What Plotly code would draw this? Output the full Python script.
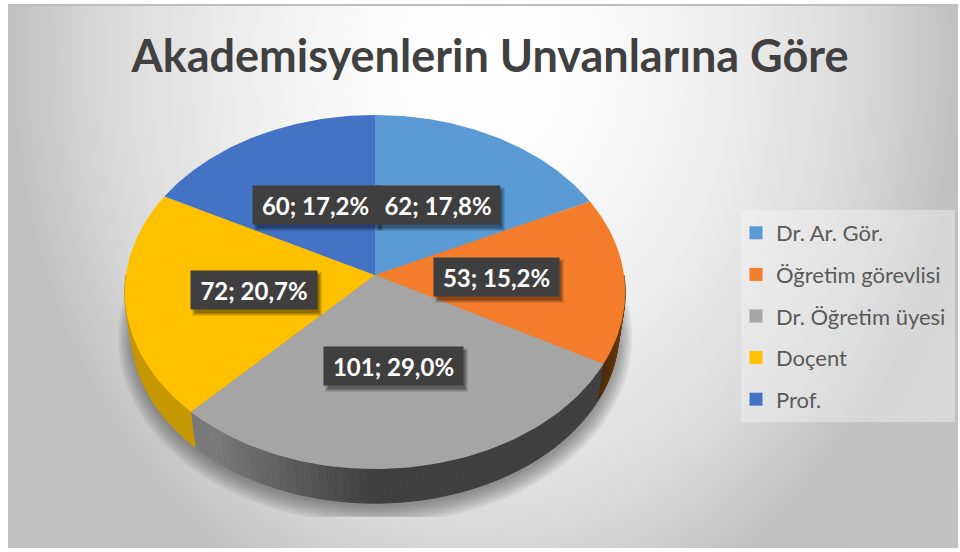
import base64
import numpy as np
import plotly.graph_objects as go

# ---- data ----
categories = ["Dr. Ar. Gör.", "Öğretim görevlisi", "Dr. Öğretim üyesi", "Doçent", "Prof."]
values = [62, 53, 101, 72, 60]
percent_labels = ["17,8%", "15,2%", "29,0%", "20,7%", "17,2%"]
title_text = "Akademisyenlerin Unvanlarına Göre"

# ---- styles ----
top_colors = ["#5B9BD5", "#F47D2C", "#A5A5A5", "#FFC000", "#4472C4"]
wall_colors = [("#2F5F8A", "#2F5F8A"), ("#4A2A08", "#8A4A10"), ("#3F3F3F", "#7A7A7A"),
               ("#C79800", "#C79800"), ("#27457A", "#27457A")]
label_centers = [(438, 205), (496.5, 277), (393.5, 366), (254, 290), (315.5, 205)]
label_sizes = [(122, 38), (123, 38), (137, 38), (124, 38), (123, 38)]

# ---- perspective model of the disc, in pixel-like axis units ----
CX, CY, RX, RY, K = 375, 275, 249, 175.4, 0.096
WALL_SCALE, WALL_DROP = 0.975, 39


def top_xy(theta):
    u, v = np.sin(theta), -np.cos(theta)
    s = 1 / (1 - K * v)
    return CX + RX * u * s, CY + RY * v * s


def bottom_xy(theta):
    x, y = top_xy(theta)
    return CX + (x - CX) * WALL_SCALE, CY + (y - CY) * WALL_SCALE + WALL_DROP


def mix(c1, c2, t):
    a = [int(c1[i:i + 2], 16) for i in (1, 3, 5)]
    b = [int(c2[i:i + 2], 16) for i in (1, 3, 5)]
    return "rgb(%d,%d,%d)" % tuple(round(p + (q - p) * t) for p, q in zip(a, b))


fractions = np.array(values, dtype=float) / sum(values)
edges = np.concatenate([[0], np.cumsum(fractions)]) * 2 * np.pi

fig = go.Figure()


def poly(x, y, color, line=None):
    fig.add_trace(go.Scatter(x=list(x), y=list(y), mode="lines", fill="toself", fillcolor=color,
                             line=dict(color=line or "rgba(0,0,0,0)", width=1 if line else 0),
                             hoverinfo="skip", showlegend=False))


# soft shadow below the disc, clipped by the plot floor
th = np.linspace(0, 2 * np.pi, 240)
bx, by = bottom_xy(th)
n_shadow = 12
for i in range(n_shadow):
    f = 1.055 - i * 0.0055
    sx = CX + (bx - CX) * f
    sy = by + 4
    sy = CY + 18 + (sy - CY - 18) * (1.08 - i * 0.0075)
    poly(sx, np.minimum(sy, 517), "rgba(60,60,60,0.05)")

# side wall, far to near
for i in range(len(values)):
    a, b = edges[i], edges[i + 1]
    lo, hi = max(a, np.pi / 2), min(b, 3 * np.pi / 2)
    if hi <= lo:
        continue
    pieces = np.linspace(lo, hi, 61)
    for j in range(len(pieces) - 1):
        t0, t1 = pieces[j], pieces[j + 1]
        seg = np.linspace(t0, t1, 3)
        x1, y1 = top_xy(seg)
        x2, y2 = bottom_xy(seg[::-1])
        m = (t0 + t1) / 2
        c1, c2 = wall_colors[i]
        shade = np.clip((m - np.pi) / 0.64, 0, 1) if i == 2 else 0
        if i == 1:
            shade = 1 - np.clip((m - lo) / max(hi - lo, 1e-6), 0, 1)
        col = mix(c1, c2, shade)
        poly(np.r_[x1, x2], np.r_[y1, y2], col, col)

# top face
for i in range(len(values)):
    seg = np.linspace(edges[i], edges[i + 1], 90)
    x, y = top_xy(seg)
    poly(np.r_[CX, x, CX], np.r_[CY, y, CY], top_colors[i])

# legend entries
for name, color in zip(categories, top_colors):
    fig.add_trace(go.Scatter(x=[None], y=[None], mode="markers", name=name, legendgroup=name,
                             marker=dict(symbol="square", size=13, color=color)))

# value labels
annotations = []
shapes = [dict(type="rect", xref="x", yref="y", x0=741, x1=955, y0=210, y1=422,
               fillcolor="rgba(245,245,245,0.45)", line_width=0, layer="above"),
          dict(type="line", xref="x", yref="y", x0=8, x1=958, y0=5, y1=5,
               line=dict(color="#BDBDBD", width=2), layer="above")]
for value, pct, (lx, ly), (w, h) in zip(values, percent_labels, label_centers, label_sizes):
    for grow, alpha in ((3, 0.10), (2, 0.12), (1, 0.14), (0, 0.16)):
        shapes.append(dict(type="rect", xref="x", yref="y",
                           x0=lx - w / 2 + 3 - grow, x1=lx + w / 2 + 3 + grow,
                           y0=ly - h / 2 + 4 - grow, y1=ly + h / 2 + 4 + grow,
                           fillcolor="rgba(0,0,0,%.2f)" % alpha, line_width=0, layer="above"))
    annotations.append(dict(x=lx, y=ly, xref="x", yref="y", text=f"{value}; {pct}", showarrow=False,
                            width=w, height=h - 2, bgcolor="#3F3F3F", align="center", valign="middle",
                            font=dict(family="Lato", size=24, color="white", weight="bold")))

# background gradient
svg = """<svg xmlns="http://www.w3.org/2000/svg" width="950" height="543" preserveAspectRatio="none">
<defs><radialGradient id="g" cx="0" cy="0" r="1" gradientTransform="translate(.5 .1) scale(1 2.2)">
<stop offset="0" stop-color="#ffffff"/><stop offset=".12" stop-color="#fbfbfb"/>
<stop offset=".25" stop-color="#eeeeee"/><stop offset=".4" stop-color="#d9d9d9"/>
<stop offset=".5" stop-color="#c0c0c0"/><stop offset=".66" stop-color="#c2c2c2"/>
</radialGradient></defs><rect width="950" height="543" fill="url(#g)"/></svg>"""
uri = "data:image/svg+xml;base64," + base64.b64encode(svg.encode()).decode()

fig.update_layout(
    width=960, height=552, margin=dict(l=0, r=0, t=0, b=0),
    paper_bgcolor="white", plot_bgcolor="rgba(0,0,0,0)",
    xaxis=dict(range=[0, 960], visible=False, fixedrange=True),
    yaxis=dict(range=[552, 0], visible=False, fixedrange=True),
    title=dict(text=title_text, x=490 / 960, xanchor="center", y=1 - 56 / 552, yanchor="middle",
               font=dict(family="Lato", size=45, color="#404040", weight="bold")),
    legend=dict(x=736 / 960, xanchor="left", y=1 - 212 / 552, yanchor="top", bgcolor="rgba(0,0,0,0)",
                font=dict(family="Lato", size=22, color="#595959"), tracegroupgap=10,
                traceorder="grouped", itemclick=False, itemdoubleclick=False),
    images=[dict(source=uri, xref="x", yref="y", x=8, y=5, sizex=950, sizey=543,
                 sizing="stretch", xanchor="left", yanchor="top", layer="below")],
    shapes=shapes, annotations=annotations,
)
fig.write_html("out.html", config=dict(displayModeBar=False),
               post_script="document.body.style.margin='0';")
